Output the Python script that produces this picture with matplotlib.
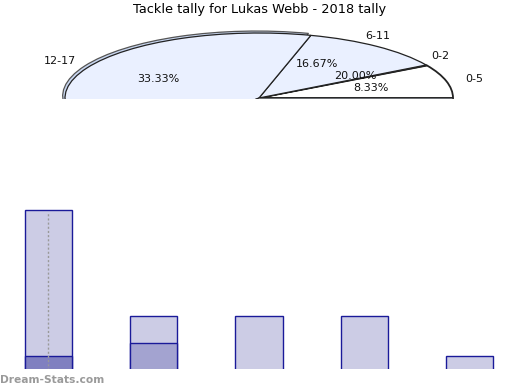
import math
import matplotlib
matplotlib.use("Agg")
import matplotlib.pyplot as plt
from matplotlib.patches import Wedge

# ---- data ----
title = "Tackle tally for Lukas Webb - 2018 tally"
pie_labels = ["0-5", "0-2", "6-11", "12-17", ""]
pie_sizes = [30, 0.5, 44, 156, 129.5]      # wedge spans (relative)
pie_pct_text = ["8.33%", "20.00%", "16.67%", "33.33%", ""]
pie_colors = ["#ffffff", "#eaf0ff", "#eaf0ff", "#eaf0ff", "#eaf0ff"]
label_angles = [15, 36, 60, 149, 300]       # where the labels sit (degrees)
pct_angles = [15, 34, 60, 150, 300]

bar_values = [12, 4, 4, 4, 1]
bar_inner = [1, 2, 0, 0, 0]
inner_colors = ["#8080c0", "#a3a3d0", "#a3a3d0", "#a3a3d0", "#a3a3d0"]
bar_err_top = [11.8, 0, 0, 0, 0]

W, H = 520, 390
fig = plt.figure(figsize=(W / 100, H / 100), dpi=100)

# ---- pie (squashed, clipped at centre line) ----
cx, cy, rx, ry = 259, 98, 194, 65
ax_p = fig.add_axes([(cx - 1.25 * rx) / W, (H - cy - 1) / H, 2.5 * rx / W, (1.25 * ry + 1) / H])
pct_iter = iter(pie_pct_text)
wedges, texts, autotexts = ax_p.pie(
    pie_sizes, labels=pie_labels, colors=pie_colors, startangle=0,
    counterclock=True, autopct=lambda p: next(pct_iter),
    wedgeprops=dict(edgecolor="#222222", linewidth=0.9),
    textprops=dict(fontsize=8, color="#111111"), labeldistance=1.1,
    pctdistance=0.6)
for t, a in zip(texts, label_angles):
    r = math.radians(a)
    t.set_position((1.1 * math.cos(r), 1.1 * math.sin(r)))
for t, a in zip(autotexts, pct_angles):
    r = math.radians(a)
    t.set_position((0.6 * math.cos(r), 0.6 * math.sin(r)))
wedges[0].set_linewidth(1.3)
w = wedges[3]
ghost = Wedge((-0.012, 0.03), 1.0, w.theta1, w.theta2, facecolor="#c8d6f0",
              edgecolor="#555555", linewidth=0.9, zorder=w.get_zorder() - 0.5)
ax_p.add_patch(ghost)
for p in list(wedges) + [ghost]:
    p.set_clip_on(True)
    p.set_clip_path(ax_p.patch)
ax_p.set_aspect("auto")
ax_p.set_xlim(-1.25, 1.25)
ax_p.set_ylim(-1 / ry, 1.25)
ax_p.axis("off")

fig.text(0.5, 1 - 10 / H, title, ha="center", va="center", fontsize=9.3)

# ---- bars ----
x0, step, base, unit = 48.5, 105.25, 369, 13.25
top_px = 200
ax_b = fig.add_axes([0, (H - base) / H, 1, (base - top_px) / H])
xs = list(range(len(bar_values)))
ax_b.bar(xs, bar_values, width=0.45, color="#ccccE5", edgecolor="#1a1a99", linewidth=1.0)
ax_b.bar(xs, bar_inner, width=0.45, color=inner_colors, edgecolor="#1a1a99", linewidth=1.0)
for x, t in zip(xs, bar_err_top):
    if t > 0:
        ax_b.vlines(x, 0, t, colors="#999999", linestyles=(0, (1.5, 1.5)), linewidth=1.0)
ax_b.set_xlim(-x0 / step, (W - x0) / step)
ax_b.set_ylim(0.04, (base - top_px) / unit)
ax_b.axis("off")

fig.text(0, 1 - 380 / H, "Dream-Stats.com", ha="left", va="center",
         fontsize=7.7, color="#9a9a9a", fontweight="bold")

fig.savefig("out.png", dpi=100)
